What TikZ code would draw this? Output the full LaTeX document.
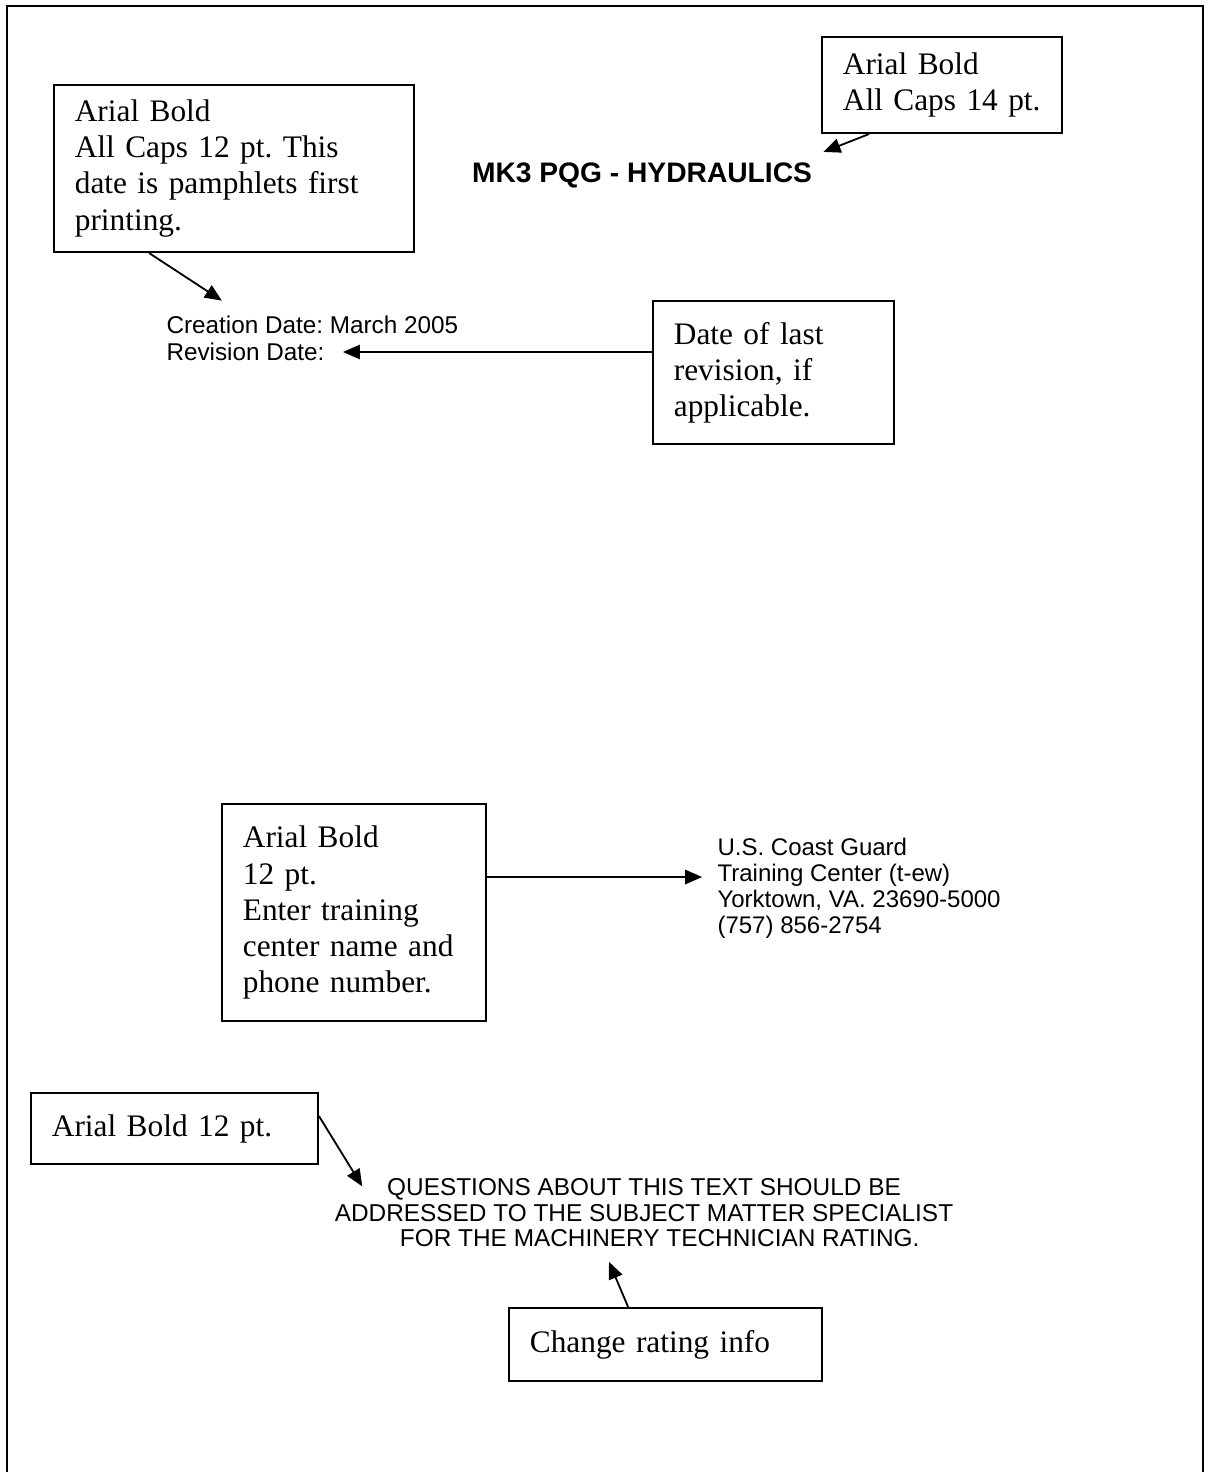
\documentclass[tikz,border=0pt]{standalone}
\usepackage{fontspec}
\setmainfont{Liberation Serif}
\newfontfamily\arialfont{Liberation Sans}
\usetikzlibrary{positioning,arrows.meta}
\frenchspacing

\begin{document}
\begin{tikzpicture}[
        x=0.383pt, y=-0.383pt,
        notebox/.style={draw, line width=0.75pt, inner xsep=8pt, inner ysep=0pt, align=left,
            font=\fontsize{12}{13.8}\selectfont},
        sanstext/.style={inner sep=0pt, font=\arialfont\fontsize{9.3}{10.3}\selectfont},
        pointer/.style={line width=0.7pt, -{Triangle[length=6.5pt,width=5.5pt]}},
    ]
    \useasboundingbox (0,0) rectangle (1208,1472);

    %Frame: page border, open at the bottom
    \draw[line width=0.8pt] (7,1472) -- (7,6) -- (1203,6) -- (1203,1472);

    %Nodes: page texts
    \node[sanstext, font=\arialfont\bfseries\fontsize{10.8}{12}\selectfont] (title) at (642,175) {MK3 PQG - HYDRAULICS};
    \node[sanstext, anchor=west] (creation) at (166,325) {Creation Date: March 2005};
    \node[sanstext, anchor=west] (revision) at (166,352) {Revision Date:};
    \node[sanstext, align=left, anchor=west, font=\arialfont\fontsize{9.2}{10}\selectfont] (address) at (717,888)
        {U.S. Coast Guard\\Training Center (t-ew)\\Yorktown, VA. 23690-5000\\(757) 856-2754};
    \node[sanstext, align=center, font=\arialfont\fontsize{9.34}{9.8}\selectfont] (questions) at (644,1213)
        {QUESTIONS ABOUT THIS TEXT SHOULD BE\\ADDRESSED TO THE SUBJECT MATTER SPECIALIST\\\hspace*{12pt}FOR THE MACHINERY TECHNICIAN RATING.};

    %Nodes: notes
    \node[notebox, text width=121.9pt, minimum height=64pt]   (note_caps)     at (234,168.5)  {Arial Bold\\All Caps 12 pt. This\\date is pamphlets first\\printing.};
    \node[notebox, text width=75.9pt,  minimum height=36.8pt] (note_title)    at (942,85)     {Arial Bold\\All Caps 14 pt.};
    \node[notebox, text width=76.3pt,  minimum height=54.8pt] (note_revision) at (773.5,372.5) {Date of last\\revision, if\\applicable.};
    \node[notebox, text width=85.1pt,  minimum height=83.1pt] (note_center)   at (354,912.5)  {Arial Bold\\12 pt.\\Enter training\\center name and\\phone number.};
    \node[notebox, text width=93.9pt,  minimum height=27.2pt] (note_bold)     at (174.5,1128.5) {Arial Bold 12 pt.};
    \node[notebox, text width=103.9pt, minimum height=28pt]   (note_rating)   at (665.5,1344.5) {Change rating info};

    \coordinate (address_in) at ([xshift=-5.7pt,yshift=4.2pt]address.west);

    %Arrows: notes pointing at the texts
    \path[pointer] ([xshift=18.4pt]note_title.south west) edge ([xshift=4.2pt,yshift=3.8pt]title.north east);
    \path[pointer] ([xshift=36.8pt]note_caps.south west) edge ([xshift=21.4pt,yshift=5.7pt]creation.north west);
    \path[pointer] (note_revision.west |- revision.east) edge ([xshift=6.9pt]revision.east);
    \path[pointer] (note_center.east |- address_in) edge (address_in);
    \path[pointer] ([yshift=-9.2pt]note_bold.north east) edge ([xshift=10.7pt,yshift=-3.1pt]questions.north west);
    \path[pointer] ([xshift=46pt]note_rating.north west) edge ([xshift=-13.4pt,yshift=-5.4pt]questions.south);
\end{tikzpicture}
\end{document}
